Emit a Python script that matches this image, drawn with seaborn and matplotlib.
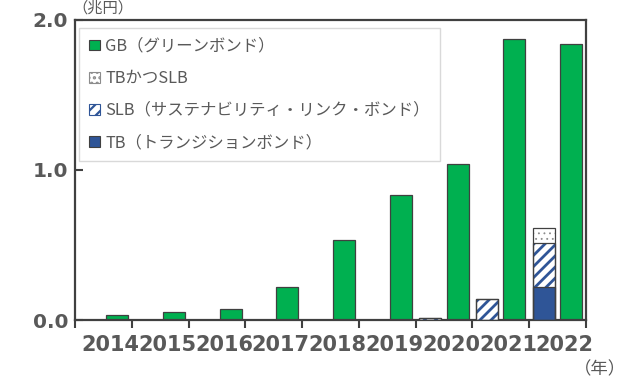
import numpy as np
import pandas as pd
import matplotlib
matplotlib.use("Agg")
import matplotlib.pyplot as plt
from matplotlib.patches import Patch
import seaborn as sns

# ---- data (trillion yen) ----
years = ["2014", "2015", "2016", "2017", "2018", "2019", "2020", "2021", "2022"]
gb = [0.03, 0.053, 0.071, 0.22, 0.535, 0.83, 1.035, 1.87, 1.84]
tb = [0, 0, 0, 0, 0, 0, 0, 0, 0.22]
slb = [0, 0, 0, 0, 0, 0, 0.015, 0.14, 0.29]
tb_and_slb = [0, 0, 0, 0, 0, 0, 0, 0, 0.105]
legend_labels = ["GB（グリーンボンド）", "TBかつSLB",
                 "SLB（サステナビリティ・リンク・ボンド）", "TB（トランジションボンド）"]
y_ticks = [0.0, 1.0, 2.0]

GREEN = "#00B050"
BLUE = "#2F5597"
EDGE = "#404040"
TXT = "#595959"
CJK = ["Noto Sans CJK JP", "DejaVu Sans"]

sns.set_theme(style="white")

fig = plt.figure(figsize=(6.29, 3.82), dpi=100)
ax = fig.add_axes([75 / 629, 1 - 320 / 382, 511 / 629, 300.5 / 382])

hue_order = ["stack", "GB"]


def layer(values, group, face, hatch=None, edge=EDGE, lw=0.9, fill=True, z=2):
    d = pd.DataFrame({"year": years, "group": group, "value": values})
    kws = {}
    if hatch is not None:
        kws["hatch"] = hatch
    sns.barplot(data=d, x="year", y="value", hue="group", hue_order=hue_order,
                order=years, dodge=True, width=0.96, gap=0.19, errorbar=None,
                legend=False, ax=ax, palette={"stack": face, "GB": face},
                saturation=1, fill=fill, edgecolor=edge, linewidth=lw,
                zorder=z, **kws)


tot3 = np.array(tb) + np.array(slb) + np.array(tb_and_slb)
tot2 = np.array(tb) + np.array(slb)

# GB bars
layer(gb, "GB", GREEN)
# stacked: fills (top-down overlay)
plt.rcParams["hatch.linewidth"] = 0.6
layer(tot3, "stack", "white", hatch="...", edge="#8c8c8c", lw=0, z=2)
plt.rcParams["hatch.linewidth"] = 2.0
layer(tot2, "stack", "white", hatch="///", edge=BLUE, lw=0, z=3)
layer(tb, "stack", BLUE, edge=BLUE, lw=0, z=4)
# outlines of segments
for vals in (tot3, tot2, tb):
    layer(vals, "stack", EDGE, fill=False, edge=EDGE, lw=0.9, z=5)

ax.set_xlim(-0.5, len(years) - 0.5)
ax.set_ylim(0, 2.0)
ax.set_xlabel("")
ax.set_ylabel("")

ax.set_yticks(y_ticks)
ax.set_yticklabels([f"{v:.1f}" for v in y_ticks], fontsize=14.5,
                   fontweight="bold", color=TXT)
ax.tick_params(axis="y", direction="in", length=5.5, width=1.5,
               color=EDGE, pad=5, left=True)

ax.set_xticks(np.arange(len(years)) + 0.125)
ax.set_xticklabels(years, fontsize=15, fontweight="bold", color=TXT)
ax.set_xticks(np.arange(len(years) + 1) - 0.5, minor=True)
ax.tick_params(axis="x", which="major", length=0, pad=11)
ax.tick_params(axis="x", which="minor", direction="out", length=5.5,
               width=1.5, color=EDGE, bottom=True)

for s in ax.spines.values():
    s.set_visible(True)
    s.set_color(EDGE)
    s.set_linewidth(1.6)
ax.grid(False)

plt.rcParams["hatch.linewidth"] = 0.6
h_dot = Patch(facecolor="white", edgecolor="#8c8c8c", hatch="...", linewidth=0.8)
plt.rcParams["hatch.linewidth"] = 1.6
h_slb = Patch(facecolor="white", edgecolor=BLUE, hatch="///", linewidth=0.8)
handles = [
    Patch(facecolor=GREEN, edgecolor=EDGE, linewidth=0.8),
    h_dot,
    h_slb,
    Patch(facecolor=BLUE, edgecolor=EDGE, linewidth=0.8),
]
leg = ax.legend(handles, legend_labels, loc="upper left",
                bbox_to_anchor=(0.008, 0.972), borderaxespad=0,
                prop={"family": CJK, "size": 11.8}, frameon=True,
                fancybox=False, edgecolor="#d9d9d9", framealpha=1,
                handlelength=0.65, handleheight=0.65, handletextpad=0.35,
                labelspacing=0.92, borderpad=0.6)
leg.get_frame().set_linewidth(1.0)
for t in leg.get_texts():
    t.set_color(TXT)

fig.text(72 / 629, 1.0, "（兆円）", family=CJK, fontsize=11,
         color=TXT, ha="left", va="top")
fig.text(626 / 629, 1 - 369 / 382, "（年）", family=CJK, fontsize=12.5,
         color=TXT, ha="right", va="center")

fig.savefig("out.png", dpi=100)
